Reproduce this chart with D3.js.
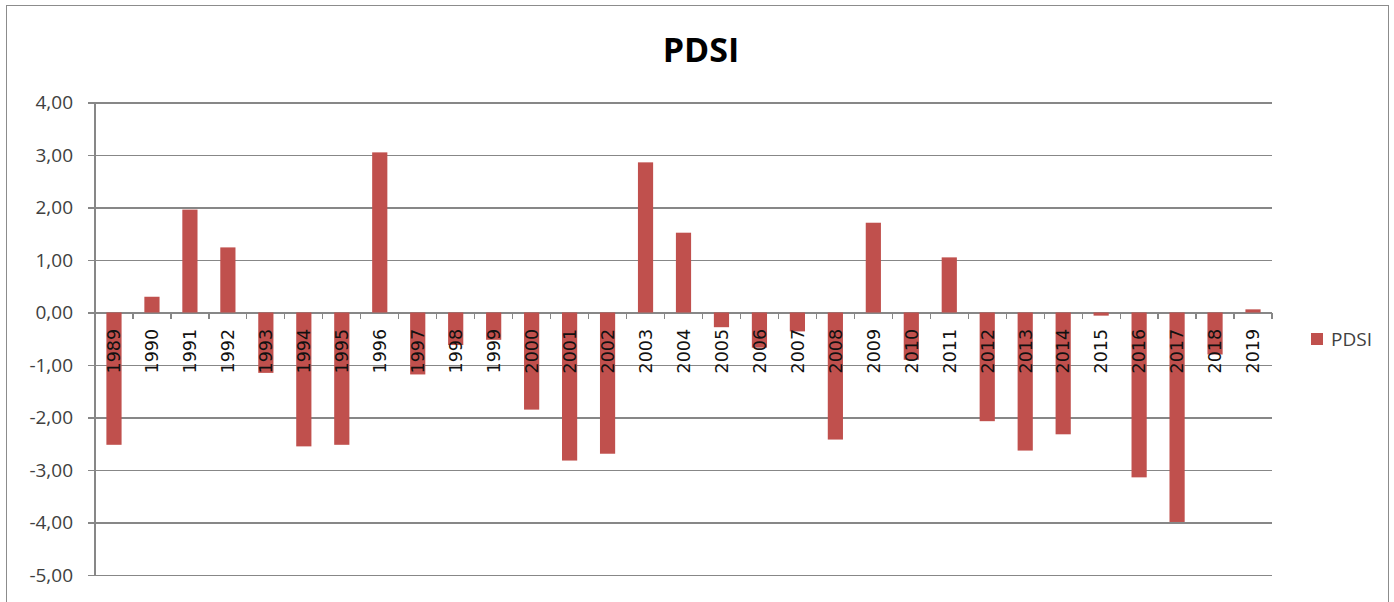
<!DOCTYPE html>
<html>
<head>
<meta charset="utf-8">
<script src="https://cdn.jsdelivr.net/npm/d3@7"></script>
<style>
  html, body { margin: 0; padding: 0; background: #fff; }
  svg { display: block; }
</style>
</head>
<body>
<svg id="chart" width="1394" height="602"></svg>
<script>
// Annual Palmer Drought Severity Index values
const years = ["1989","1990","1991","1992","1993","1994","1995","1996","1997","1998",
  "1999","2000","2001","2002","2003","2004","2005","2006","2007","2008",
  "2009","2010","2011","2012","2013","2014","2015","2016","2017","2018","2019"];
const pdsi = [-2.52, 0.30, 1.96, 1.24, -1.15, -2.55, -2.52, 3.05, -1.18, -0.62,
  -0.52, -1.85, -2.82, -2.69, 2.86, 1.52, -0.28, -0.67, -0.36, -2.42,
  1.71, -0.90, 1.05, -2.07, -2.63, -2.32, -0.06, -3.14, -3.99, -0.80, 0.06];
const yTicks = [4, 3, 2, 1, 0, -1, -2, -3, -4, -5];
const seriesName = "PDSI";

const svg = d3.select("#chart");
const barColor = "#C0504D";
const gridColor = "#878787";
const textColor = "#404040";

// outer frame
svg.append("rect")
  .attr("x", 6.5).attr("y", 5.5).attr("width", 1382).attr("height", 600)
  .attr("fill", "#fff").attr("stroke", "#8c8c8c").attr("stroke-width", 1);

const plotLeft = 95, plotRight = 1272;
const y = d3.scaleLinear().domain([-5, 4]).range([575, 102.5]);
const x = d3.scaleBand().domain(years).range([plotLeft, plotRight]).paddingInner(0.6).paddingOuter(0.3);

// horizontal gridlines with value labels
const yAxis = d3.axisLeft(y)
  .tickValues(yTicks)
  .tickSize(-(plotRight - plotLeft))
  .tickSizeOuter(0)
  .tickPadding(22)
  .tickFormat(d => d3.format(".2f")(d).replace(".", ",").replace("−", "-"));

const gy = svg.append("g").attr("transform", `translate(${plotLeft},0)`).call(yAxis);
gy.select(".domain").remove();
gy.selectAll(".tick line")
  .attr("x1", -7)
  .attr("stroke", gridColor).attr("stroke-width", 1.2)
  .attr("shape-rendering", "crispEdges");
gy.selectAll(".tick text")
  .attr("fill", textColor)
  .style("font-family", "'Open Sans', sans-serif")
  .style("font-size", "19px");

// vertical axis line
svg.append("line")
  .attr("x1", plotLeft).attr("x2", plotLeft)
  .attr("y1", y(4)).attr("y2", y(-5))
  .attr("stroke", gridColor).attr("stroke-width", 1.2)
  .attr("shape-rendering", "crispEdges");

// bars
svg.append("g").selectAll("rect")
  .data(years.map((yr, i) => ({ yr, v: pdsi[i] })))
  .join("rect")
  .attr("x", d => x(d.yr))
  .attr("width", x.bandwidth())
  .attr("y", d => y(Math.max(0, d.v)))
  .attr("height", d => Math.abs(y(d.v) - y(0)))
  .attr("fill", barColor);

// category axis along zero line
const boundaries = d3.range(years.length + 1).map(i => plotLeft + i * (plotRight - plotLeft) / years.length);
svg.append("g").selectAll("line")
  .data(boundaries)
  .join("line")
  .attr("x1", d => d).attr("x2", d => d)
  .attr("y1", y(0)).attr("y2", y(0) + 6)
  .attr("stroke", gridColor).attr("stroke-width", 1.2)
  .attr("shape-rendering", "crispEdges");

// year labels, rotated
svg.append("g").selectAll("text")
  .data(years)
  .join("text")
  .attr("transform", d => `translate(${x(d) + x.bandwidth() / 2},${y(0) + 61}) rotate(-90)`)
  .attr("text-anchor", "start")
  .attr("dy", "0.36em")
  .attr("fill", "#111")
  .style("font-family", "'DejaVu Sans', sans-serif")
  .style("font-size", "17.5px")
  .text(d => d);

// title
svg.append("text")
  .attr("x", 701).attr("y", 62)
  .attr("text-anchor", "middle")
  .attr("fill", "#000")
  .style("font-family", "'Open Sans', sans-serif")
  .style("font-weight", "bold")
  .style("font-size", "34px")
  .text(seriesName);

// legend
const lg = svg.append("g").attr("transform", "translate(1311,333)");
lg.append("rect").attr("width", 12).attr("height", 12).attr("fill", barColor);
lg.append("text")
  .attr("x", 20).attr("y", 6).attr("dy", "0.36em")
  .attr("fill", textColor)
  .style("font-family", "'Open Sans', sans-serif")
  .style("font-size", "19px")
  .text(seriesName);
</script>
</body>
</html>
